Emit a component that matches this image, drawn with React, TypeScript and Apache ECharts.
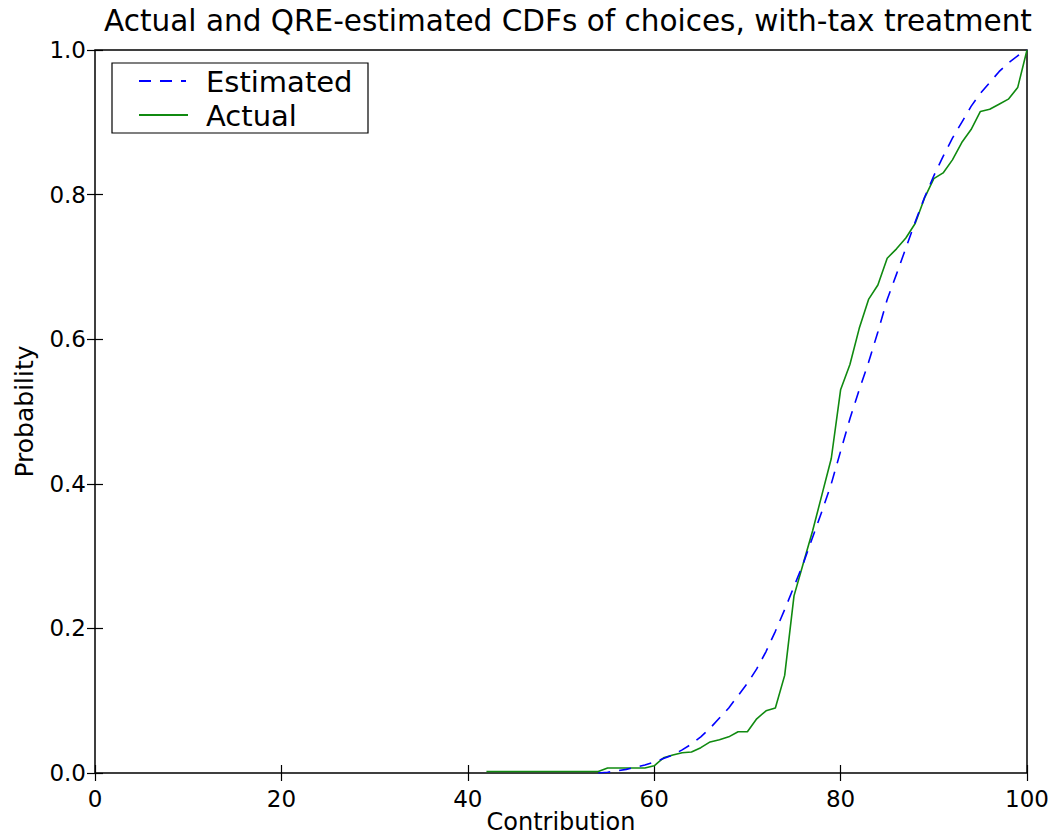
import React, { useEffect, useRef } from "react";
import * as echarts from "echarts";

const titleText = "Actual and QRE-estimated CDFs of choices, with-tax treatment";
const xAxisName = "Contribution";
const yAxisName = "Probability";
const legendNames = ["Estimated", "Actual"];

const actualX = [
  42, 43, 44, 45, 46, 47, 48, 49, 50, 51, 52, 53, 54, 55, 56, 57, 58, 59, 60, 61,
  62, 63, 64, 65, 66, 67, 68, 69, 70, 71, 72, 73, 74, 75, 76, 77, 78, 79, 80, 81,
  82, 83, 84, 85, 86, 87, 88, 89, 90, 91, 92, 93, 94, 95, 96, 97, 98, 99, 100,
];
const actualY = [
  0.002, 0.002, 0.002, 0.002, 0.002, 0.002, 0.002, 0.002, 0.002, 0.002, 0.002, 0.002, 0.002,
  0.007, 0.007, 0.007, 0.007, 0.007, 0.01, 0.021,
  0.025, 0.028, 0.029, 0.035, 0.043, 0.046, 0.05, 0.057, 0.057, 0.075,
  0.086, 0.09, 0.135, 0.245, 0.29, 0.335, 0.385, 0.435, 0.53, 0.565,
  0.615, 0.655, 0.675, 0.712, 0.725, 0.74, 0.76, 0.795, 0.822, 0.83,
  0.848, 0.872, 0.89, 0.915, 0.918, 0.925, 0.932, 0.948, 1.0,
];

const estimatedX = [
  54, 55, 56, 57, 58, 59, 60, 61, 62, 63, 64, 65, 66, 67, 68, 69, 70, 71, 72, 73,
  74, 75, 76, 77, 78, 79, 80, 81, 82, 83, 84, 85, 86, 87, 88, 89, 90, 91, 92, 93,
  94, 95, 96, 97, 98, 99, 100,
];
const estimatedY = [
  0.0, 0.001, 0.003, 0.005, 0.008, 0.011, 0.015, 0.02, 0.025, 0.032,
  0.04, 0.05, 0.062, 0.076, 0.09, 0.107, 0.124, 0.144, 0.168, 0.196,
  0.226, 0.258, 0.29, 0.326, 0.362, 0.4, 0.445, 0.49, 0.53, 0.568,
  0.61, 0.655, 0.69, 0.726, 0.762, 0.796, 0.826, 0.853, 0.878, 0.9,
  0.922, 0.94, 0.955, 0.97, 0.982, 0.992, 1.0,
];

const FONT = "DejaVu Sans";
const BLUE = "#0000ff";
const GREEN = "#108a10";
const DASH = [12, 9];

export default function App() {
  const ref = useRef<HTMLDivElement>(null);
  useEffect(() => {
    const chart = echarts.init(ref.current!, null, { renderer: "svg" });
    const tickCommon = {
      show: true,
      inside: true,
      length: 8,
      lineStyle: { color: "#000", width: 1.2 },
    };
    chart.setOption({
      animation: false,
      backgroundColor: "#fff",
      textStyle: { fontFamily: FONT },
      title: {
        text: titleText,
        left: 563,
        textAlign: "center",
        top: 1,
        textStyle: { fontFamily: FONT, fontSize: 29.5, fontWeight: "normal", color: "#000" },
      },
      grid: {
        left: 95,
        right: 33,
        top: 50,
        bottom: 67,
        containLabel: false,
        outerBoundsMode: "none",
        show: true,
        borderColor: "#000",
        borderWidth: 1.5,
        backgroundColor: "transparent",
      },
      graphic: [
        {
          type: "text",
          x: 561,
          y: 822,
          style: {
            text: xAxisName,
            fill: "#000",
            font: `24px "${FONT}"`,
            verticalAlign: "middle",
            align: "center",
          },
        },
        {
          type: "group",
          z: 100,
          children: [
            {
              type: "rect",
              shape: { x: 112, y: 63, width: 256, height: 70 },
              style: { fill: "#fff", stroke: "#000", lineWidth: 1.2 },
            },
            {
              type: "line",
              shape: { x1: 139, y1: 81, x2: 186, y2: 81 },
              style: { stroke: BLUE, lineWidth: 1.8, lineDash: DASH },
            },
            {
              type: "line",
              shape: { x1: 139, y1: 115, x2: 188, y2: 115 },
              style: { stroke: GREEN, lineWidth: 1.8 },
            },
            {
              type: "text",
              x: 206,
              y: 82,
              style: {
                text: legendNames[0],
                fill: "#000",
                font: `29px "${FONT}"`,
                verticalAlign: "middle",
                align: "left",
              },
            },
            {
              type: "text",
              x: 206,
              y: 116,
              style: {
                text: legendNames[1],
                fill: "#000",
                font: `29px "${FONT}"`,
                verticalAlign: "middle",
                align: "left",
              },
            },
          ],
        },
      ],
      xAxis: [
        {
          type: "value",
          min: 0,
          max: 100,
          interval: 20,
          position: "bottom",
          axisLine: { show: false },
          axisTick: tickCommon,
          splitLine: { show: false },
          axisLabel: { fontFamily: FONT, fontSize: 23, color: "#000", margin: 14 },
        },
        {
          type: "value",
          min: 0,
          max: 100,
          interval: 20,
          position: "top",
          axisLine: { show: false },
          axisTick: tickCommon,
          splitLine: { show: false },
          axisLabel: { show: false },
        },
      ],
      yAxis: [
        {
          type: "value",
          min: 0,
          max: 1,
          interval: 0.2,
          position: "left",
          name: yAxisName,
          nameLocation: "middle",
          nameGap: 58,
          nameRotate: 90,
          nameTextStyle: { fontFamily: FONT, fontSize: 25, color: "#000" },
          axisLine: { show: false },
          axisTick: tickCommon,
          splitLine: { show: false },
          axisLabel: {
            fontFamily: FONT,
            fontSize: 23,
            color: "#000",
            margin: 9,
            formatter: (v: number) => v.toFixed(1),
          },
        },
        {
          type: "value",
          min: 0,
          max: 1,
          interval: 0.2,
          position: "right",
          axisLine: { show: false },
          axisTick: tickCommon,
          splitLine: { show: false },
          axisLabel: { show: false },
        },
      ],
      series: [
        {
          name: legendNames[0],
          type: "line",
          xAxisIndex: 0,
          yAxisIndex: 0,
          showSymbol: false,
          symbol: "none",
          lineStyle: { color: BLUE, width: 1.6, type: DASH },
          itemStyle: { color: BLUE },
          data: estimatedX.map((x, i) => [x, estimatedY[i]]),
          z: 3,
        },
        {
          name: legendNames[1],
          type: "line",
          xAxisIndex: 0,
          yAxisIndex: 0,
          showSymbol: false,
          symbol: "none",
          lineStyle: { color: GREEN, width: 1.6 },
          itemStyle: { color: GREEN },
          data: actualX.map((x, i) => [x, actualY[i]]),
          z: 2,
        },
      ],
    });
    return () => chart.dispose();
  }, []);
  return (
    <div
      ref={ref}
      style={{ position: "absolute", left: 0, top: 0, width: 1060, height: 840 }}
    />
  );
}
